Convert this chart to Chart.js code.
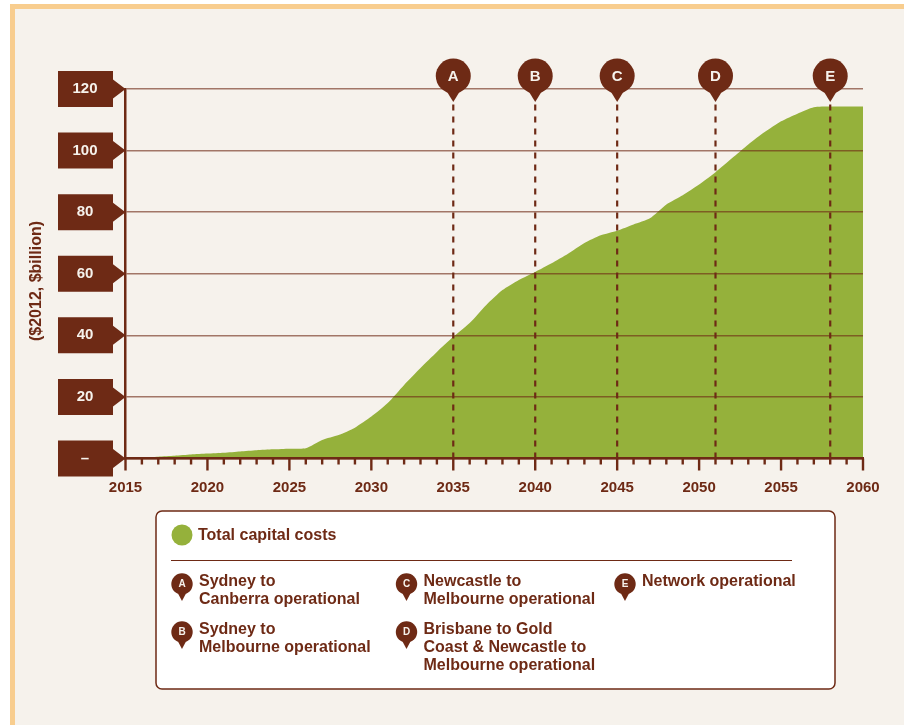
<!DOCTYPE html>
<html>
<head>
<meta charset="utf-8">
<script src="https://cdn.jsdelivr.net/npm/chart.js@4"></script>
<style>
  html, body { margin: 0; padding: 0; background: #fff; }
  canvas { display: block; }
</style>
</head>
<body>
<canvas id="chartCosts" width="904" height="725"></canvas>
<script>
const years = [2015, 2016, 2017, 2018, 2019, 2020, 2021, 2022, 2023, 2024,
               2025, 2026, 2027, 2028, 2029, 2030, 2031, 2032, 2033, 2034,
               2035, 2036, 2037, 2038, 2039, 2040, 2041, 2042, 2043, 2044,
               2045, 2046, 2047, 2048, 2049, 2050, 2051, 2052, 2053, 2054,
               2055, 2056, 2057, 2058, 2059, 2060];
const capitalCosts = [0.2, 0.3, 0.6, 0.9, 1.3, 1.6, 1.9, 2.3, 2.7, 3.0,
                      3.2, 3.3, 6.0, 7.6, 10, 13.6, 18, 23.9, 29.4, 34.6,
                      39.5, 44, 49.8, 54.7, 58, 60.6, 63.4, 66.5, 70, 72.5,
                      74, 76, 78, 82.5, 85.5, 89, 93, 97.5, 102, 106,
                      109.5, 112, 114.1, 114.3, 114.3, 114.3];
const milestoneLetters = ['A', 'B', 'C', 'D', 'E'];
const milestoneYears = [2035, 2040, 2045, 2051, 2058];
const milestoneLabels = [
    ['Sydney to', 'Canberra operational'],
    ['Sydney to', 'Melbourne operational'],
    ['Newcastle to', 'Melbourne operational'],
    ['Brisbane to Gold', 'Coast & Newcastle to', 'Melbourne operational'],
    ['Network operational']
];
const seriesName = 'Total capital costs';
const yAxisTitle = '($2012, $billion)';

const BROWN = '#6e2a15';
const GREEN = '#95b13b';
const FONT = '"Liberation Sans", Arial, sans-serif';

// map, tear-drop marker used on the chart and in the key
function drawPin(ctx, x, y, r, tip, letter, fontSize) {
    ctx.fillStyle = BROWN;
    ctx.beginPath();
    ctx.arc(x, y, r, 0, Math.PI * 2);
    ctx.fill();
    ctx.beginPath();
    ctx.moveTo(x - r * 0.36, y + r * 0.9);
    ctx.lineTo(x + r * 0.36, y + r * 0.9);
    ctx.lineTo(x, y + tip);
    ctx.closePath();
    ctx.fill();
    ctx.fillStyle = '#f6f2ec';
    ctx.font = 'bold ' + fontSize + 'px ' + FONT;
    ctx.textAlign = 'center';
    ctx.textBaseline = 'middle';
    ctx.fillText(letter, x, y + 0.5);
}

const backdrop = {
    id: 'backdrop',
    beforeDraw(chart) {
        const ctx = chart.ctx;
        const yScale = chart.scales.y;
        ctx.save();
        ctx.fillStyle = '#fff';
        ctx.fillRect(0, 0, 904, 725);
        ctx.fillStyle = '#f8cd8e';
        ctx.fillRect(10, 4, 894, 721);
        ctx.fillStyle = '#f6f2ec';
        ctx.fillRect(15, 9, 889, 716);

        // tick tags behind the y labels
        ctx.fillStyle = BROWN;
        yScale.ticks.forEach(function(t) {
            const y = yScale.getPixelForValue(t.value);
            ctx.beginPath();
            ctx.moveTo(58, y - 18);
            ctx.lineTo(113, y - 18);
            ctx.lineTo(113, y - 9.5);
            ctx.lineTo(125.5, y);
            ctx.lineTo(113, y + 9.5);
            ctx.lineTo(113, y + 18);
            ctx.lineTo(58, y + 18);
            ctx.closePath();
            ctx.fill();
        });
        ctx.restore();
    },
    afterDraw(chart) {
        const ctx = chart.ctx;
        const xScale = chart.scales.x;
        const yScale = chart.scales.y;
        ctx.save();

        // year ticks, longer every five years
        ctx.strokeStyle = BROWN;
        ctx.lineWidth = 2.4;
        years.forEach(function(year) {
            const x = xScale.getPixelForValue(year);
            ctx.beginPath();
            ctx.moveTo(x, yScale.bottom);
            ctx.lineTo(x, yScale.bottom + (year % 5 === 0 ? 12 : 6));
            ctx.stroke();
        });

        milestoneYears.forEach(function(year, i) {
            drawPin(ctx, xScale.getPixelForValue(year), yScale.top - 13, 17.5, 26, milestoneLetters[i], 15);
        });

        // y axis title
        ctx.save();
        ctx.translate(36.5, 281);
        ctx.rotate(-Math.PI / 2);
        ctx.fillStyle = BROWN;
        ctx.font = 'bold 16px ' + FONT;
        ctx.textAlign = 'center';
        ctx.textBaseline = 'middle';
        ctx.fillText(yAxisTitle, 0, 0);
        ctx.restore();

        // key
        ctx.fillStyle = '#fff';
        ctx.strokeStyle = BROWN;
        ctx.lineWidth = 1.5;
        ctx.beginPath();
        ctx.roundRect(156, 511, 679, 178, 6);
        ctx.fill();
        ctx.stroke();

        ctx.fillStyle = GREEN;
        ctx.beginPath();
        ctx.arc(182, 535, 10.5, 0, Math.PI * 2);
        ctx.fill();

        ctx.fillStyle = BROWN;
        ctx.font = 'bold 16px ' + FONT;
        ctx.textAlign = 'left';
        ctx.textBaseline = 'middle';
        ctx.fillText(seriesName, 198, 536);

        ctx.lineWidth = 1.2;
        ctx.beginPath();
        ctx.moveTo(171, 560.5);
        ctx.lineTo(792, 560.5);
        ctx.stroke();

        const keyX = [182, 182, 406.5, 406.5, 625];
        const keyY = [584, 632, 584, 632, 584];
        milestoneLetters.forEach(function(letter, i) {
            drawPin(ctx, keyX[i], keyY[i], 10.7, 17, letter, 10);
            ctx.fillStyle = BROWN;
            ctx.font = 'bold 16px ' + FONT;
            ctx.textAlign = 'left';
            ctx.textBaseline = 'middle';
            milestoneLabels[i].forEach(function(line, n) {
                ctx.fillText(line, keyX[i] + 17, keyY[i] - 2.5 + n * 18);
            });
        });
        ctx.restore();
    }
};

const milestoneDatasets = milestoneYears.map(function(year, i) {
    return {
        label: milestoneLetters[i],
        data: [{ x: year, y: 0 }, { x: year, y: 120 }],
        borderColor: BROWN,
        borderWidth: 2.2,
        borderDash: [6, 6],
        pointRadius: 0,
        fill: false,
        order: 1
    };
});

new Chart(document.getElementById('chartCosts'), {
    type: 'line',
    data: {
        datasets: [{
            label: seriesName,
            data: years.map(function(year, i) { return { x: year, y: capitalCosts[i] }; }),
            backgroundColor: GREEN,
            borderWidth: 0,
            pointRadius: 0,
            tension: 0.2,
            fill: 'origin',
            order: 2
        }].concat(milestoneDatasets)
    },
    plugins: [backdrop],
    options: {
        responsive: false,
        animation: false,
        layout: { padding: { top: 89, right: 41, bottom: 226.5, left: 0 } },
        plugins: { legend: { display: false }, tooltip: { enabled: false } },
        scales: {
            x: {
                type: 'linear',
                min: 2015,
                max: 2060,
                afterFit: function(scale) { scale.height = 40; },
                grid: { display: false, drawTicks: false },
                border: { color: BROWN, width: 2.5, z: 2 },
                ticks: {
                    stepSize: 1,
                    autoSkip: false,
                    maxRotation: 0,
                    padding: 20,
                    color: BROWN,
                    font: { family: FONT, size: 15, weight: 'bold' },
                    callback: function(v) { return v % 5 === 0 ? String(v) : ''; }
                }
            },
            y: {
                min: 0,
                max: 120,
                afterFit: function(scale) { scale.width = 125.5; },
                grid: { color: 'rgba(110,42,21,0.62)', lineWidth: 1.5, drawTicks: false, z: 1 },
                border: { color: BROWN, width: 2.5, z: 2 },
                ticks: {
                    stepSize: 20,
                    crossAlign: 'center',
                    padding: 28,
                    color: '#f6f2ec',
                    font: { family: FONT, size: 15, weight: 'bold' },
                    callback: function(v) { return v === 0 ? '–' : String(v); }
                }
            }
        }
    }
});
</script>
</body>
</html>
